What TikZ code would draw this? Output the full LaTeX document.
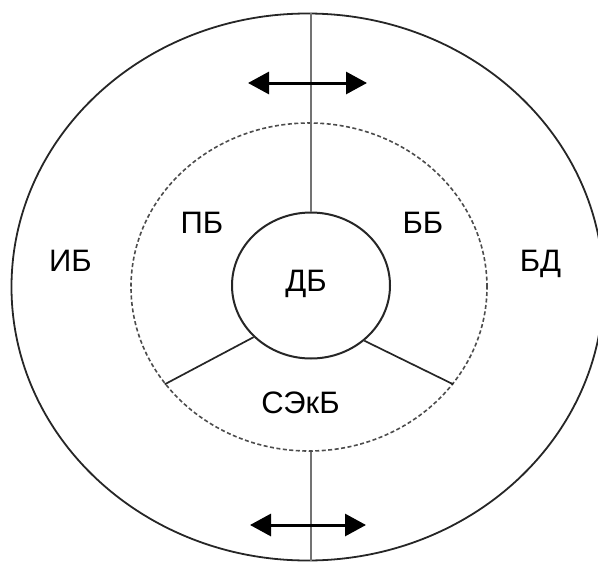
\documentclass[tikz,border=0pt]{standalone}
\usepackage{fontspec}
\setmainfont{Liberation Sans}
\usetikzlibrary{shapes.geometric, arrows.meta}

\tikzset{
  zone/.style={font=\fontsize{31}{36}\selectfont, anchor=base, inner sep=0pt},
  ring/.style={draw, ellipse, inner sep=0pt},
  axisline/.style={draw=black!55, line width=2.6pt},
  shiftarrow/.style={{Triangle[length=21pt,width=22pt]}-{Triangle[length=21pt,width=22pt]}, line width=3pt},
}

\begin{document}
\begin{tikzpicture}[x=1pt, y=-1pt]
    \useasboundingbox (0,0) rectangle (598,563);

    % --- Rings ---
    \node[ring, draw=black!85, line width=1.8pt, minimum width=592pt, minimum height=547pt] (outer) at (307.5,287) {};
    \node[ring, draw=black!70, line width=1.6pt, dash pattern=on 4pt off 2.5pt, minimum width=356pt, minimum height=328pt] (pb) at (309,287) {};
    \node[ring, draw=black!85, line width=2pt, minimum width=158pt, minimum height=146pt] (db) at (311,285.5) {};

    % --- Vertical axis ---
    \draw[axisline] (db.north |- outer.north) -- (db.north);
    \draw[axisline] (pb.south -| db.south) -- (db.south |- outer.south);

    % --- Sector borders ---
    \draw[line width=1.7pt, black!85] (db.-138) -- (pb.-146);
    \draw[line width=1.7pt, black!85] (db.-46) -- (pb.-34);

    % --- Double arrows ---
    \coordinate (tl) at (248,83);
    \coordinate (tr) at (367,83);
    \coordinate (bl) at (250,525);
    \coordinate (br) at (366,525);
    \draw[shiftarrow] (tl) -- (tr);
    \draw[shiftarrow] (bl) -- (br);

    % --- Labels ---
    \node[zone] (ib) at (70.5,271) {ИБ};
    \node[zone] (pbl) at (202,233) {ПБ};
    \node[zone] (bb) at (423,233) {ББ};
    \node[zone] (bd) at (540.5,271) {БД};
    \node[zone] (dbl) at (306,291) {ДБ};
    \node[zone] (sekb) at (300.5,413) {СЭкБ};
\end{tikzpicture}
\end{document}
